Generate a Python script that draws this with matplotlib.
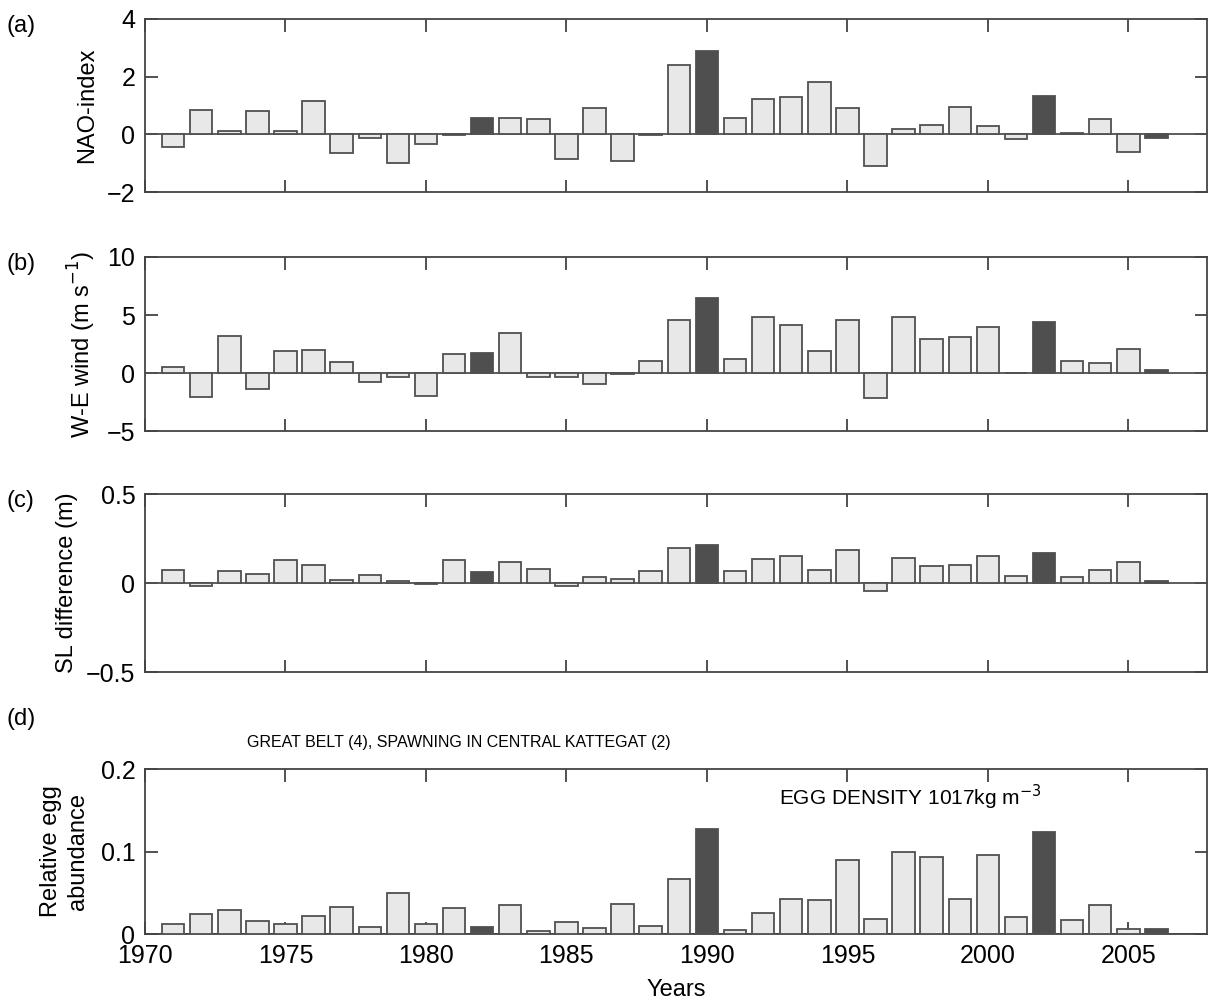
import numpy as np
import matplotlib
matplotlib.use('Agg')
import matplotlib.pyplot as plt

plt.rcParams['font.family'] = ['Liberation Sans', 'DejaVu Sans']

years = list(range(1971, 2007))
dark_years = [1982, 1990, 2002, 2006]

nao = [-0.45, 0.83, 0.10, 0.81, 0.13, 1.16, -0.65, -0.12, -0.98, -0.35, -0.03, 0.58,
       0.58, 0.53, -0.86, 0.90, -0.94, -0.02, 2.42, 2.90, 0.57, 1.21, 1.28, 1.80,
       0.90, -1.11, 0.18, 0.31, 0.95, 0.29, -0.17, 1.34, 0.03, 0.52, -0.60, -0.12]

wind = [0.49, -2.05, 3.20, -1.38, 1.93, 2.02, 0.98, -0.75, -0.32, -1.96, 1.64, 1.73,
        3.43, -0.32, -0.37, -0.95, -0.12, 1.07, 4.55, 6.46, 1.21, 4.87, 4.12, 1.93,
        4.61, -2.19, 4.84, 2.94, 3.14, 3.98, 0.0, 4.41, 1.07, 0.89, 2.10, 0.26]

sl_diff = [0.073, -0.019, 0.069, 0.049, 0.130, 0.100, 0.017, 0.045, 0.013, -0.008, 0.127, 0.064,
           0.120, 0.077, -0.019, 0.034, 0.024, 0.069, 0.198, 0.211, 0.067, 0.135, 0.151, 0.071,
           0.185, -0.047, 0.138, 0.095, 0.100, 0.151, 0.037, 0.166, 0.034, 0.071, 0.118, 0.009]

eggs = [0.0117, 0.0247, 0.0296, 0.0158, 0.0121, 0.0215, 0.0328, 0.0081, 0.0502, 0.0121, 0.0316, 0.0085,
        0.0348, 0.0036, 0.0146, 0.0077, 0.0368, 0.0093, 0.0672, 0.1270, 0.0049, 0.0259, 0.0429, 0.0409,
        0.0903, 0.0182, 0.0988, 0.0935, 0.0429, 0.0955, 0.0211, 0.1235, 0.0170, 0.0356, 0.0065, 0.0057]

# small whisker drawn above the 2005 egg bar
egg_err_year = 2005
egg_err_upper = 0.006

panels = [
    ('(a)', nao, 'NAO-index', (-2, 4), [-2, 0, 2, 4], ['\u22122', '0', '2', '4']),
    ('(b)', wind, 'W-E wind (m s$^{-1}$)', (-5, 10), [-5, 0, 5, 10], ['\u22125', '0', '5', '10']),
    ('(c)', sl_diff, 'SL difference (m)', (-0.5, 0.5), [-0.5, 0, 0.5], ['\u22120.5', '0', '0.5']),
    ('(d)', eggs, 'Relative egg\nabundance', (0, 0.2), [0, 0.1, 0.2], ['0', '0.1', '0.2']),
]
# pixel top/bottom of each axes box
boxes = [(19, 192), (257, 431), (494, 672), (769, 934)]

W, H = 1208, 1005
fig = plt.figure(figsize=(W / 100, H / 100), dpi=100)
left, right = 145, 1207

colors = ['#4f4f4f' if y in dark_years else '#e8e8e8' for y in years]

for (lab, vals, ylab, ylim, yt, ytl), (top, bot) in zip(panels, boxes):
    ax = fig.add_axes([left / W, 1 - bot / H, (right - left) / W, (bot - top) / H])
    ax.bar(years, vals, width=0.8, color=colors, edgecolor='#505050', linewidth=1.3, zorder=3)
    ax.axhline(0, color='#505050', linewidth=1.3, zorder=2)
    ax.set_xlim(1970, 2007.8)
    ax.set_ylim(*ylim)
    ax.set_yticks(yt)
    ax.set_yticklabels(ytl)
    ax.set_xticks([1970, 1975, 1980, 1985, 1990, 1995, 2000, 2005])
    ax.tick_params(direction='in', length=9, width=1.2, top=True, right=True,
                   labelsize=18, color='#333333', pad=7)
    for s in ax.spines.values():
        s.set_linewidth(1.3)
        s.set_color('#444444')
    if lab != '(d)':
        ax.set_xticklabels([])
        ax.set_ylabel(ylab, fontsize=17, labelpad=6)
    else:
        ax.set_ylabel(ylab, fontsize=17, labelpad=8, linespacing=1.3)
        ax.set_xlabel('Years', fontsize=17, labelpad=8)
        v = eggs[years.index(egg_err_year)]
        ax.errorbar([egg_err_year], [v], yerr=[[0], [egg_err_upper]], fmt='none',
                    ecolor='#505050', elinewidth=1.2, capsize=0, zorder=4)
        ax.text(0.597, 0.83, 'EGG DENSITY 1017kg m$^{-3}$', transform=ax.transAxes,
                fontsize=15, ha='left', va='center')
        ax.text(0.096, 1.16, 'GREAT BELT (4), SPAWNING IN CENTRAL KATTEGAT (2)',
                transform=ax.transAxes, fontsize=11.5, ha='left', va='center')
    ty = top - 4 if lab != '(d)' else 708
    fig.text(6 / W, 1 - ty / H, lab, fontsize=17, ha='left', va='top')

fig.savefig('out.png', dpi=100)
